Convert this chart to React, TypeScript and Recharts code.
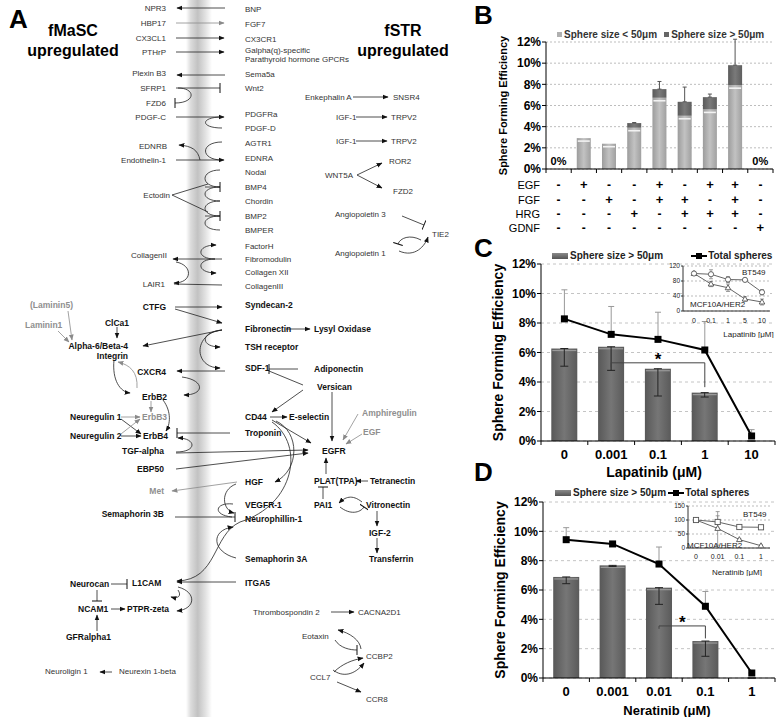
import React from 'react';
import { ComposedChart, LineChart, Bar, Line, XAxis, YAxis, CartesianGrid, ErrorBar, LabelList, ReferenceLine } from 'recharts';

const FONT = '"Liberation Sans", Arial, sans-serif';

// ---- panel B: growth factor combinations ----
const bConditions = ['none', 'EGF', 'FGF', 'HRG', 'EGF+FGF', 'FGF+HRG', 'EGF+HRG', 'EGF+FGF+HRG', 'GDNF'];
const bRowNames = ['EGF', 'FGF', 'HRG', 'GDNF'];
const bEGF = ['-', '+', '-', '-', '+', '-', '+', '+', '-'];
const bFGF = ['-', '-', '+', '-', '+', '+', '-', '+', '-'];
const bHRG = ['-', '-', '-', '+', '-', '+', '+', '+', '-'];
const bGDNF = ['-', '-', '-', '-', '-', '-', '-', '-', '+'];
const bSmall = [0, 2.92, 2.39, 3.9, 6.73, 5.03, 5.63, 7.92, 0];
const bLarge = [0, 0, 0, 0.44, 0.82, 1.32, 1.16, 1.89, 0];
const bErr = [0, 0.32, 0.31, 0.05, 0.72, 1.39, 0.29, 2.45, 0];
const bTicks = [0, 2, 4, 6, 8, 10, 12];

// ---- panel C: lapatinib ----
const lapDoses = ['0', '0.001', '0.1', '1', '10'];
const lapLarge = [6.27, 6.39, 4.9, 3.28, 0];
const lapLargeErr = [1.2, 1.6, 1.85, 0.3, 0];
const lapTotal = [8.28, 7.23, 6.89, 6.17, 0.34];
const lapTotalErr = [1.97, 1.89, 1.84, 1.93, 0.43];

const lapInsetDoses = ['0', '0.1', '1', '5', '10'];
const lapBT549 = [100, 98, 84, 83, 50];
const lapBT549Err = [0, 12, 8, 3, 7];
const lapMCF = [100, 72, 62, 32, 24];
const lapMCFErr = [0, 7, 10, 6, 8];

// ---- panel D: neratinib ----
const nerDoses = ['0', '0.001', '0.01', '0.1', '1'];
const nerLarge = [6.89, 7.68, 6.16, 2.52, 0];
const nerLargeErr = [0.46, 0.08, 1.14, 1.04, 0];
const nerTotal = [9.43, 9.14, 7.77, 4.89, 0.34];
const nerTotalErr = [0.82, 0, 1.16, 1.01, 0];

const nerInsetDoses = ['0', '0.01', '0.1', '1'];
const nerBT549 = [100, 93, 75, 74];
const nerBT549Err = [0, 22, 3, 6];
const nerMCF = [100, 70, 30, 8];
const nerMCFErr = [0, 60, 4, 3];

const effTicks = [0, 2, 4, 6, 8, 10, 12];

// ---- panel A: diagram text ----
const aRightCol: [string, number][] = [
  ['BNP', 9], ['FGF7', 24], ['CX3CR1', 39], ['Galpha(q)-specific', 50], ['Parathyroid hormone GPCRs', 59],
  ['Sema5a', 74], ['Wnt2', 88], ['PDGFRa', 114], ['PDGF-D', 128], ['AGTR1', 143], ['EDNRA', 158],
  ['Nodal', 172], ['BMP4', 187], ['Chordin', 201], ['BMP2', 216], ['BMPER', 230], ['FactorH', 246],
  ['Fibromodulin', 259], ['Collagen XII', 272], ['CollagenIII', 286],
];
const aRightBold: [string, number][] = [
  ['Syndecan-2', 305], ['Fibronectin', 329], ['TSH receptor', 347], ['SDF-1', 368], ['CD44', 417],
  ['Troponin', 433], ['HGF', 482], ['VEGFR-1', 505], ['Neurophillin-1', 519], ['Semaphorin 3A', 559], ['ITGA5', 583],
];
// text, x, y, anchor, kind (r = regular, b = bold, g = grey)
const aLabels: [string, number, number, string, string][] = [
  ['NPR3', 166, 8, 'end', 'r'], ['HBP17', 166, 23, 'end', 'r'], ['CX3CL1', 166, 38, 'end', 'r'], ['PTHrP', 166, 52, 'end', 'r'],
  ['Plexin B3', 166, 73, 'end', 'r'], ['SFRP1', 166, 88, 'end', 'r'], ['FZD6', 166, 103, 'end', 'r'], ['PDGF-C', 166, 117, 'end', 'r'],
  ['EDNRB', 167, 146, 'end', 'r'], ['Endothelin-1', 166, 160, 'end', 'r'], ['Ectodin', 170, 195, 'end', 'r'],
  ['CollagenII', 167, 255, 'end', 'r'], ['LAIR1', 165, 284, 'end', 'r'],
  ['CTFG', 166, 307, 'end', 'b'], ['ClCa1', 117, 323, 'middle', 'b'], ['Alpha-6/Beta-4', 128, 346, 'end', 'b'],
  ['Integrin', 128, 356, 'end', 'b'], ['CXCR4', 166, 372, 'end', 'b'], ['ErbB2', 142, 397, 'start', 'b'],
  ['Neuregulin 1', 70, 417, 'start', 'b'], ['Neuregulin 2', 70, 436, 'start', 'b'], ['ErbB4', 143, 436, 'start', 'b'],
  ['TGF-alpha', 164, 451, 'end', 'b'], ['EBP50', 164, 469, 'end', 'b'], ['Semaphorin 3B', 164, 514, 'end', 'b'],
  ['Neurocan', 70, 584, 'start', 'b'], ['L1CAM', 132, 583, 'start', 'b'], ['NCAM1', 78, 609, 'start', 'b'],
  ['PTPR-zeta', 127, 609, 'start', 'b'], ['GFRalpha1', 66, 637, 'start', 'b'],
  ['Lysyl Oxidase', 314, 329, 'start', 'b'], ['Adiponectin', 314, 369, 'start', 'b'], ['Versican', 317, 387, 'start', 'b'],
  ['E-selectin', 289, 417, 'start', 'b'], ['EGFR', 322, 451, 'start', 'b'], ['PLAT(TPA)', 314, 481, 'start', 'b'],
  ['Tetranectin', 370, 481, 'start', 'b'], ['PAI1', 314, 505, 'start', 'b'], ['Vitronectin', 366, 505, 'start', 'b'],
  ['IGF-2', 369, 533, 'start', 'b'], ['Transferrin', 369, 559, 'start', 'b'],
  ['(Laminin5)', 30, 305, 'start', 'g'], ['Laminin1', 25, 325, 'start', 'g'], ['ErbB3', 142, 417, 'start', 'g'],
  ['Met', 164, 491, 'end', 'g'], ['Amphiregulin', 362, 413, 'start', 'g'], ['EGF', 363, 432, 'start', 'g'],
  ['Neuroligin 1', 45, 671, 'start', 'r'], ['Neurexin 1-beta', 119, 671, 'start', 'r'],
  ['Thrombospondin 2', 253, 612, 'start', 'r'], ['CACNA2D1', 358, 612, 'start', 'r'], ['Eotaxin', 302, 636, 'start', 'r'],
  ['CCBP2', 366, 656, 'start', 'r'], ['CCL7', 310, 677, 'start', 'r'], ['CCR8', 366, 699, 'start', 'r'],
  ['Enkephalin A', 305, 97, 'start', 'r'], ['SNSR4', 393, 97, 'start', 'r'], ['IGF-1', 336, 117, 'start', 'r'],
  ['TRPV2', 391, 117, 'start', 'r'], ['IGF-1', 336, 141, 'start', 'r'], ['TRPV2', 391, 141, 'start', 'r'],
  ['ROR2', 389, 161, 'start', 'r'], ['WNT5A', 325, 175, 'start', 'r'], ['FZD2', 393, 191, 'start', 'r'],
  ['Angiopoietin 3', 335, 214, 'start', 'r'], ['TIE2', 432, 234, 'start', 'r'], ['Angiopoietin 1', 335, 253, 'start', 'r'],
];
// path, end type (a = arrow, g = grey arrow, t = bar, n = none)
const aPaths: [string, string][] = [
  ['M225,8 L177,8', 'a'], ['M176,23 L224,23', 'g'], ['M176,38 L224,38', 'a'], ['M176,52 L224,52', 'a'],
  ['M225,75 L177,75', 'a'], ['M176,88 L220,88', 't'], ['M178,88 C196,88 196,103 175,103', 't'],
  ['M176,117 L224,117', 'a'], ['M222,117 C200,117 200,128 222,128', 'n'],
  ['M200,160 C198,150 192,146 179,145', 'a'], ['M222,142 C200,142 200,160 222,160', 'n'], ['M176,160 L224,160', 'a'],
  ['M172,195 L208,184', 'n'], ['M172,195 L208,212', 'n'],
  ['M220,170 C200,170 200,187 220,187', 'n'], ['M220,187 C200,187 200,201 220,201', 'n'],
  ['M220,201 C200,201 200,216 220,216', 'n'], ['M220,216 C200,216 200,230 220,230', 'n'],
  ['M205,187 L220,187', 't'], ['M205,216 L220,216', 't'],
  ['M222,259 L173,259', 'a'], ['M215,259 C196,259 196,245 216,245', 'a'], ['M215,259 C196,259 196,273 216,273', 'a'],
  ['M176,262 C193,265 193,283 174,283', 'a'], ['M222,285 L174,284', 'n'],
  ['M175,307 L222,307', 'a'], ['M175,309 L222,323', 'a'], ['M222,330 L143,346', 'a'],
  ['M222,330 C200,332 200,347 220,347', 'a'], ['M222,330 C193,333 193,368 220,368', 'a'],
  ['M225,371 L177,371', 'a'], ['M182,377 C205,380 205,395 184,395', 'a'],
  ['M117,327 L117,338', 'a'], ['M68,311 L72,340', 'g'], ['M58,331 L69,342', 'g'],
  ['M114,360 C112,380 120,392 130,393', 'a'], ['M137,388 C138,372 130,365 118,362', 'g'],
  ['M151,401 L151,412', 'g'], ['M163,400 C172,412 170,425 166,431', 'a'],
  ['M121,417 L140,417', 'g'], ['M121,419 L141,434', 'a'], ['M121,434 L140,419', 'g'], ['M121,436 L141,436', 'a'],
  ['M230,433 L177,433', 't'], ['M176,452 C198,452 196,438 178,438', 'a'],
  ['M176,453 L308,450', 'a'], ['M176,469 L308,453', 'a'],
  ['M286,329 L310,329', 'a'], ['M298,369 L269,369', 't'], ['M303,385 L269,371', 'n'], ['M303,390 L272,412', 'a'],
  ['M332,392 L332,441', 'a'], ['M270,417 L287,417', 'a'], ['M272,420 L311,443', 'a'],
  ['M276,421 C300,432 300,470 275,482', 'a'], ['M272,422 C305,445 295,505 240,522 C212,535 218,580 177,581', 'a'],
  ['M358,414 L343,440', 'g'], ['M362,434 L346,444', 'g'],
  ['M326,474 L326,458', 'a'], ['M368,481 L356,481', 'a'], ['M323,499 L323,487', 't'],
  ['M362,502 C352,494 345,497 339,503', 'a'], ['M340,507 C350,515 360,513 364,507', 't'],
  ['M377,511 L377,526', 'a'], ['M377,538 L377,553', 'a'],
  ['M237,482 L172,491', 'g'], ['M236,484 C220,490 222,510 234,513', 'a'], ['M233,504 C215,502 212,515 232,517', 'n'],
  ['M175,517 L235,517', 't'], ['M236,558 C212,552 210,530 233,527', 'a'], ['M236,582 L177,582', 'a'],
  ['M111,584 L127,584', 't'], ['M97,590 L97,601', 't'], ['M111,609 L125,609', 'a'], ['M97,631 L97,615', 'a'],
  ['M178,587 C197,592 196,609 177,611', 'a'], ['M178,590 C182,596 178,599 171,597', 'a'],
  ['M112,672 L100,672', 'a'],
  ['M353,97 L388,97', 'a'], ['M356,117 L387,117', 'a'], ['M356,141 L387,141', 'a'],
  ['M357,175 L382,163', 'a'], ['M357,175 L382,188', 'a'], ['M402,216 L424,225', 't'],
  ['M399,251 C415,258 425,246 428,237', 'a'], ['M421,240 C410,234 400,238 398,244', 't'],
  ['M331,612 L354,612', 'a'], ['M361,649 C360,640 350,633 338,630', 'a'], ['M335,640 C340,648 350,650 357,650', 't'],
  ['M334,672 C342,664 352,660 363,658', 'a'], ['M333,670 C342,677 354,676 364,663', 'a'], ['M337,682 L361,692', 'a'],
];

const bData = bConditions.map((c, i) => ({ c, small: bSmall[i], large: bLarge[i], err: [0, bErr[i]] }));
const lapData = lapDoses.map((d, i) => ({ d, large: lapLarge[i], largeErr: [lapLargeErr[i], 0], total: lapTotal[i], totalErr: [0, lapTotalErr[i]] }));
const nerData = nerDoses.map((d, i) => ({ d, large: nerLarge[i], largeErr: [nerLargeErr[i], 0], total: nerTotal[i], totalErr: [0, nerTotalErr[i]] }));
const lapInset = lapInsetDoses.map((d, i) => ({ d, bt: lapBT549[i], btErr: lapBT549Err[i], mcf: lapMCF[i], mcfErr: lapMCFErr[i] }));
const nerInset = nerInsetDoses.map((d, i) => ({ d, bt: nerBT549[i], btErr: nerBT549Err[i], mcf: nerMCF[i], mcfErr: nerMCFErr[i] }));

const pct = (v: number) => `${v}%`;
const tickFont = { fontSize: 12, fontWeight: 'bold', fill: '#000', fontFamily: FONT };

function LightBar(p: any) {
  const { x, y, width, height } = p;
  if (!height || height <= 0) return null;
  return (
    <g>
      <rect x={x} y={y} width={width} height={height} fill="url(#gLight)" />
      <line x1={x + 1} x2={x + width - 1} y1={y + 3} y2={y + 3} stroke="#f2f2f2" strokeWidth={1.6} />
    </g>
  );
}

function DarkBar(p: any) {
  const { x, y, width, height } = p;
  if (!height || height <= 0) return null;
  return (
    <g>
      <rect x={x} y={y} width={width} height={height} fill="url(#gDark)" />
      <line x1={x + 1} x2={x + width - 1} y1={y + 2} y2={y + 2} stroke="#9a9a9a" strokeWidth={1.2} />
    </g>
  );
}

function BTick(props: any) {
  const { x, y, payload, index } = props;
  const half = payload && payload.offset ? payload.offset : 12.6;
  const rows = [bEGF, bFGF, bHRG, bGDNF];
  const rowY = [20, 34.5, 48.5, 63];
  return (
    <g>
      <line x1={x - half} x2={x - half} y1={y} y2={y + 4} stroke="#000" />
      {index === bConditions.length - 1 && <line x1={x + half} x2={x + half} y1={y} y2={y + 4} stroke="#000" />}
      {rows.map((r, i) => (
        <text key={i} x={x} y={y + rowY[i]} textAnchor="middle" fontFamily={FONT} fontSize={r[index] === '+' ? 13 : 12} fontWeight="bold" fill="#000">
          {r[index] === '+' ? '+' : '-'}
        </text>
      ))}
      {index === 0 && bRowNames.map((n, i) => (
        <text key={n} x={x - half - 6} y={y + rowY[i]} textAnchor="end" fontFamily={FONT} fontSize={11} fill="#000">{n}</text>
      ))}
    </g>
  );
}

function DoseTick(props: any) {
  const { x, y, payload, index, count } = props;
  const half = payload && payload.offset ? payload.offset : 23.4;
  return (
    <g>
      <line x1={x - half} x2={x - half} y1={y} y2={y + 4} stroke="#000" />
      {index === count - 1 && <line x1={x + half} x2={x + half} y1={y} y2={y + 4} stroke="#000" />}
      <text x={x} y={y + 18} textAnchor="middle" fontFamily={FONT} fontSize={13} fontWeight="bold" fill="#000">{payload.value}</text>
    </g>
  );
}

function YTitle(props: any) {
  const { viewBox, value, dx, size } = props;
  const cx = viewBox.x + dx;
  const cy = viewBox.y + viewBox.height / 2;
  return (
    <text x={cx} y={cy} transform={`rotate(-90 ${cx} ${cy})`} textAnchor="middle" dominantBaseline="central"
      fontFamily={FONT} fontSize={size} fontWeight="bold" fill="#000">{value}</text>
  );
}

const squareDot = (p: any) => (
  <rect key={`sq-${p.index}`} x={p.cx - 3.5} y={p.cy - 3.5} width={7} height={7} fill="#000" />
);
const openCircle = (p: any) => (
  <circle key={`oc-${p.index}`} cx={p.cx} cy={p.cy} r={2.6} fill="#fff" stroke="#555" strokeWidth={0.9} />
);
const openSquare = (p: any) => (
  <rect key={`os-${p.index}`} x={p.cx - 2.6} y={p.cy - 2.6} width={5.2} height={5.2} fill="#fff" stroke="#555" strokeWidth={0.9} />
);
const openTri = (p: any) => (
  <path key={`ot-${p.index}`} d={`M${p.cx},${p.cy - 3} L${p.cx + 2.8},${p.cy + 2} L${p.cx - 2.8},${p.cy + 2} Z`} fill="#fff" stroke="#555" strokeWidth={0.9} />
);

function Letter({ ch, x, y, size }: { ch: string; x: number; y: number; size: number }) {
  return <div style={{ position: 'absolute', left: x, top: y, font: `bold ${size}px ${FONT}`, lineHeight: 1 }}>{ch}</div>;
}

function PanelA() {
  const headMap: Record<string, string | undefined> = { a: 'url(#ah)', g: 'url(#ahg)', t: 'url(#tb)', n: undefined };
  return (
    <svg width={480} height={717} style={{ position: 'absolute', left: 0, top: 0 }}>
      <defs>
        <linearGradient id="band" x1="0" x2="1" y1="0" y2="0">
          <stop offset="0" stopColor="#fff" />
          <stop offset="0.18" stopColor="#dcdcdc" />
          <stop offset="0.45" stopColor="#c2c2c2" />
          <stop offset="0.75" stopColor="#e2e2e2" />
          <stop offset="1" stopColor="#fff" />
        </linearGradient>
        <marker id="ah" viewBox="0 0 10 10" refX="9" refY="5" markerWidth="6" markerHeight="6" orient="auto" markerUnits="userSpaceOnUse">
          <path d="M0,1 L10,5 L0,9 z" fill="#111" />
        </marker>
        <marker id="ahg" viewBox="0 0 10 10" refX="9" refY="5" markerWidth="6" markerHeight="6" orient="auto" markerUnits="userSpaceOnUse">
          <path d="M0,1 L10,5 L0,9 z" fill="#8a8a8a" />
        </marker>
        <marker id="tb" viewBox="0 0 2 10" refX="1" refY="5" markerWidth="2" markerHeight="10" orient="auto" markerUnits="userSpaceOnUse">
          <line x1="1" y1="0" x2="1" y2="10" stroke="#111" strokeWidth="1" />
        </marker>
      </defs>
      <rect x={186} y={0} width={26} height={717} fill="url(#band)" />
      <text x={73} y={30} textAnchor="middle" dominantBaseline="central" fontFamily={FONT} fontSize={16} fontWeight="bold">fMaSC</text>
      <text x={73} y={50} textAnchor="middle" dominantBaseline="central" fontFamily={FONT} fontSize={16} fontWeight="bold">upregulated</text>
      <text x={403} y={30} textAnchor="middle" dominantBaseline="central" fontFamily={FONT} fontSize={16} fontWeight="bold">fSTR</text>
      <text x={403} y={50} textAnchor="middle" dominantBaseline="central" fontFamily={FONT} fontSize={16} fontWeight="bold">upregulated</text>
      {aPaths.map(([d, t], i) => (
        <path key={i} d={d} fill="none" stroke={t === 'g' ? '#8a8a8a' : '#222'} strokeWidth={0.8} markerEnd={headMap[t]} />
      ))}
      {aRightCol.map(([s, y]) => (
        <text key={s + y} x={245} y={y} dominantBaseline="central" fontFamily={FONT} fontSize={8} fill="#333">{s}</text>
      ))}
      {aRightBold.map(([s, y]) => (
        <text key={s + y} x={245} y={y} dominantBaseline="central" fontFamily={FONT} fontSize={8.5} fontWeight="bold" fill="#111">{s}</text>
      ))}
      {aLabels.map(([s, x, y, anchor, k], i) => (
        <text key={i} x={x} y={y} textAnchor={anchor as any} dominantBaseline="central" fontFamily={FONT}
          fontSize={k === 'r' ? 8 : 8.5} fontWeight={k === 'r' ? 'normal' : 'bold'}
          fill={k === 'g' ? '#8f8f8f' : k === 'b' ? '#111' : '#333'}>{s}</text>
      ))}
    </svg>
  );
}

function BarLineLegend({ top, left, gap }: { top: number; left: number; gap: number }) {
  return (
    <div style={{ position: 'absolute', left, top, display: 'flex', alignItems: 'center', font: `bold 10px ${FONT}`, color: '#222', whiteSpace: 'nowrap' }}>
      <span style={{ display: 'inline-block', width: 16, height: 6, background: 'linear-gradient(#8a8a8a,#555)', marginRight: 2 }} />
      <span>Sphere size &gt; 50μm</span>
      <span style={{ display: 'inline-block', width: 16, height: 8, marginLeft: gap, marginRight: 1, position: 'relative' }}>
        <span style={{ position: 'absolute', left: 0, right: 0, top: 3, height: 2, background: '#000' }} />
        <span style={{ position: 'absolute', left: 5, top: 1, width: 6, height: 6, background: '#000' }} />
      </span>
      <span>Total spheres</span>
    </div>
  );
}

function InsetText({ x, y, text }: { x: number; y: number; text: string }) {
  return <div style={{ position: 'absolute', left: x, top: y, font: `8px ${FONT}`, color: '#222', whiteSpace: 'nowrap', lineHeight: 1 }}>{text}</div>;
}

export default function App() {
  return (
    <div style={{ position: 'absolute', left: 0, top: 0, width: 781, height: 717, background: '#fff', overflow: 'hidden' }}>
      <svg width={0} height={0} style={{ position: 'absolute' }}>
        <defs>
          <linearGradient id="gLight" x1="0" x2="1" y1="0" y2="0">
            <stop offset="0" stopColor="#9c9c9c" />
            <stop offset="0.5" stopColor="#c2c2c2" />
            <stop offset="1" stopColor="#a0a0a0" />
          </linearGradient>
          <linearGradient id="gDarkB" x1="0" x2="1" y1="0" y2="0">
            <stop offset="0" stopColor="#5a5a5a" />
            <stop offset="0.5" stopColor="#7a7a7a" />
            <stop offset="1" stopColor="#5e5e5e" />
          </linearGradient>
          <linearGradient id="gDark" x1="0" x2="1" y1="0" y2="0">
            <stop offset="0" stopColor="#585858" />
            <stop offset="0.5" stopColor="#767676" />
            <stop offset="1" stopColor="#5a5a5a" />
          </linearGradient>
        </defs>
      </svg>

      <PanelA />
      <Letter ch="A" x={9} y={6} size={26} />
      <Letter ch="B" x={474} y={2} size={26} />
      <Letter ch="C" x={474} y={235} size={26} />
      <Letter ch="D" x={474} y={459} size={26} />

      {/* B */}
      <div style={{ position: 'absolute', left: 480, top: 0, width: 301, height: 245 }}>
        <ComposedChart width={301} height={245} data={bData} margin={{ top: 42, right: 8, left: 0, bottom: 0 }} barCategoryGap="22%">
          <CartesianGrid vertical={false} stroke="#bdbdbd" strokeDasharray="2 2" />
          <XAxis dataKey="c" height={76} tickLine={false} tickSize={0} tickMargin={0} interval={0} axisLine={{ stroke: '#000' }} tick={<BTick />} />
          <YAxis width={66} domain={[0, 12]} ticks={bTicks} tickFormatter={pct} tick={tickFont} tickSize={4} tickMargin={1}
            axisLine={{ stroke: '#000' }} tickLine={{ stroke: '#000' }} interval={0}
            label={<YTitle value="Sphere Forming Efficiency" dx={23} size={11} />} />
          <Bar dataKey="small" stackId="s" shape={<LightBar />} isAnimationActive={false}>
            <LabelList dataKey="small" content={(p: any) => (p.value === 0 ? (
              <text x={p.x + p.width / 2} y={p.y - 4} textAnchor="middle" fontFamily={FONT} fontSize={11} fontWeight="bold">0%</text>
            ) : null)} />
          </Bar>
          <Bar dataKey="large" stackId="s" fill="url(#gDarkB)" isAnimationActive={false}>
            <ErrorBar dataKey="err" width={2} stroke="#555" strokeWidth={1} direction="y" />
          </Bar>
        </ComposedChart>
        <div style={{ position: 'absolute', left: 77, top: 29, display: 'flex', alignItems: 'center', font: `bold 10px ${FONT}`, color: '#333', whiteSpace: 'nowrap' }}>
          <span style={{ display: 'inline-block', width: 5, height: 5, background: '#b0b0b0', marginRight: 2 }} />
          <span>Sphere size &lt; 50μm</span>
          <span style={{ display: 'inline-block', width: 5, height: 5, background: '#666', marginLeft: 7, marginRight: 2 }} />
          <span>Sphere size &gt; 50μm</span>
        </div>
      </div>

      {/* C */}
      <div style={{ position: 'absolute', left: 480, top: 240, width: 301, height: 240 }}>
        <ComposedChart width={301} height={240} data={lapData} margin={{ top: 24, right: 6, left: 0, bottom: 0 }} barCategoryGap="22%">
          <CartesianGrid vertical={false} stroke="#c4c4c4" strokeDasharray="3 3" />
          <XAxis dataKey="d" height={39} tickLine={false} tickSize={0} tickMargin={0} interval={0} axisLine={{ stroke: '#000' }}
            tick={<DoseTick count={lapDoses.length} />}
            label={{ value: 'Lapatinib (μM)', position: 'insideBottom', offset: 3, dx: -4, style: { fontFamily: FONT, fontSize: 14, fontWeight: 'bold', fill: '#000' } }} />
          <YAxis width={61} domain={[0, 12]} ticks={effTicks} tickFormatter={pct} tick={tickFont} tickSize={4} tickMargin={1}
            axisLine={{ stroke: '#000' }} tickLine={{ stroke: '#000' }} interval={0}
            label={<YTitle value="Sphere Forming Efficiency" dx={18} size={14} />} />
          <Bar dataKey="large" shape={<DarkBar />} isAnimationActive={false}>
            <ErrorBar dataKey="largeErr" width={4} stroke="#222" strokeWidth={1} direction="y" />
          </Bar>
          <Line dataKey="total" stroke="#000" strokeWidth={2} dot={squareDot} isAnimationActive={false}>
            <ErrorBar dataKey="totalErr" width={3} stroke="#999" strokeWidth={1} direction="y" />
          </Line>
          <ReferenceLine segment={[{ x: '0.001', y: 5.3 }, { x: '1', y: 5.3 }]} stroke="#444" ifOverflow="visible"
            label={{ value: '*', position: 'top', offset: -2, style: { fontFamily: FONT, fontSize: 17, fontWeight: 'bold', fill: '#000' } }} />
          <ReferenceLine segment={[{ x: '1', y: 5.3 }, { x: '1', y: 3.65 }]} stroke="#444" ifOverflow="visible" />
          <ReferenceLine segment={[{ x: '0.001', y: 5.3 }, { x: '0.001', y: 5.0 }]} stroke="#444" ifOverflow="visible" />
        </ComposedChart>
        <BarLineLegend top={10} left={72} gap={28} />
      </div>
      <div style={{ position: 'absolute', left: 663, top: 260, width: 117, height: 78 }}>
        <LineChart width={117} height={78} data={lapInset} margin={{ top: 6, right: 10, left: 0, bottom: 0 }}>
          <CartesianGrid vertical={false} stroke="#bbb" strokeDasharray="2 2" fill="#fff" />
          <XAxis dataKey="d" height={27} padding={{ left: 11, right: 8 }} tickLine={false} tickSize={0} tickMargin={7} interval={0}
            axisLine={{ stroke: '#333' }} tick={{ fontSize: 7, fontFamily: FONT, fill: '#222' }}
            label={{ value: 'Lapatinib [μM]', position: 'insideBottom', offset: 1, dx: 22, style: { fontFamily: FONT, fontSize: 8, fill: '#222' } }} />
          <YAxis width={20} domain={[0, 120]} ticks={[0, 40, 80, 120]} tickSize={2} tickMargin={1} interval={0}
            axisLine={{ stroke: '#333' }} tickLine={{ stroke: '#333' }} tick={{ fontSize: 6.5, fontFamily: FONT, fill: '#222' }} />
          <Line dataKey="mcf" stroke="#666" strokeWidth={1} dot={openTri} isAnimationActive={false}>
            <ErrorBar dataKey="mcfErr" width={2} stroke="#888" strokeWidth={0.8} direction="y" />
          </Line>
          <Line dataKey="bt" stroke="#666" strokeWidth={1} dot={openCircle} isAnimationActive={false}>
            <ErrorBar dataKey="btErr" width={2} stroke="#888" strokeWidth={0.8} direction="y" />
          </Line>
        </LineChart>
        <InsetText x={79} y={9} text="BT549" />
        <InsetText x={27} y={41} text="MCF10A/HER2" />
      </div>

      {/* D */}
      <div style={{ position: 'absolute', left: 480, top: 480, width: 301, height: 237 }}>
        <ComposedChart width={301} height={237} data={nerData} margin={{ top: 22, right: 6, left: 0, bottom: 0 }} barCategoryGap="22%">
          <CartesianGrid vertical={false} stroke="#c4c4c4" strokeDasharray="3 3" />
          <XAxis dataKey="d" height={39} tickLine={false} tickSize={0} tickMargin={0} interval={0} axisLine={{ stroke: '#000' }}
            tick={<DoseTick count={nerDoses.length} />}
            label={{ value: 'Neratinib (μM)', position: 'insideBottom', offset: 2, dx: 8, style: { fontFamily: FONT, fontSize: 13, fontWeight: 'bold', fill: '#000' } }} />
          <YAxis width={63} domain={[0, 12]} ticks={effTicks} tickFormatter={pct} tick={tickFont} tickSize={4} tickMargin={1}
            axisLine={{ stroke: '#000' }} tickLine={{ stroke: '#000' }} interval={0}
            label={<YTitle value="Sphere Forming Efficiency" dx={20} size={14} />} />
          <Bar dataKey="large" shape={<DarkBar />} isAnimationActive={false}>
            <ErrorBar dataKey="largeErr" width={4} stroke="#222" strokeWidth={1} direction="y" />
          </Bar>
          <Line dataKey="total" stroke="#000" strokeWidth={2} dot={squareDot} isAnimationActive={false}>
            <ErrorBar dataKey="totalErr" width={3} stroke="#999" strokeWidth={1} direction="y" />
          </Line>
          <ReferenceLine segment={[{ x: '0.01', y: 3.55 }, { x: '0.1', y: 3.55 }]} stroke="#444" ifOverflow="visible"
            label={{ value: '*', position: 'top', offset: -2, style: { fontFamily: FONT, fontSize: 17, fontWeight: 'bold', fill: '#000' } }} />
          <ReferenceLine segment={[{ x: '0.1', y: 3.55 }, { x: '0.1', y: 2.7 }]} stroke="#444" ifOverflow="visible" />
          <ReferenceLine segment={[{ x: '0.01', y: 3.55 }, { x: '0.01', y: 3.35 }]} stroke="#444" ifOverflow="visible" />
        </ComposedChart>
        <BarLineLegend top={7} left={75} gap={2} />
      </div>
      <div style={{ position: 'absolute', left: 665, top: 500, width: 115, height: 76 }}>
        <LineChart width={115} height={76} data={nerInset} margin={{ top: 6, right: 10, left: 0, bottom: 0 }}>
          <CartesianGrid vertical={false} stroke="#bbb" strokeDasharray="2 2" fill="#fff" />
          <XAxis dataKey="d" height={28} padding={{ left: 8, right: 9 }} tickLine={false} tickSize={0} tickMargin={6} interval={0}
            axisLine={{ stroke: '#333' }} tick={{ fontSize: 7, fontFamily: FONT, fill: '#222' }}
            label={{ value: 'Neratinib [μM]', position: 'insideBottom', offset: 1, dx: 8, style: { fontFamily: FONT, fontSize: 8, fill: '#222' } }} />
          <YAxis width={23} domain={[0, 150]} ticks={[0, 50, 100, 150]} tickSize={2} tickMargin={1} interval={0}
            axisLine={{ stroke: '#333' }} tickLine={{ stroke: '#333' }} tick={{ fontSize: 6.5, fontFamily: FONT, fill: '#222' }} />
          <Line dataKey="mcf" stroke="#666" strokeWidth={1} dot={openTri} isAnimationActive={false}>
            <ErrorBar dataKey="mcfErr" width={2} stroke="#888" strokeWidth={0.8} direction="y" />
          </Line>
          <Line dataKey="bt" stroke="#666" strokeWidth={1} dot={openSquare} isAnimationActive={false}>
            <ErrorBar dataKey="btErr" width={2} stroke="#888" strokeWidth={0.8} direction="y" />
          </Line>
        </LineChart>
        <InsetText x={78} y={11} text="BT549" />
        <InsetText x={22} y={42} text="MCF10A/HER2" />
      </div>
    </div>
  );
}
